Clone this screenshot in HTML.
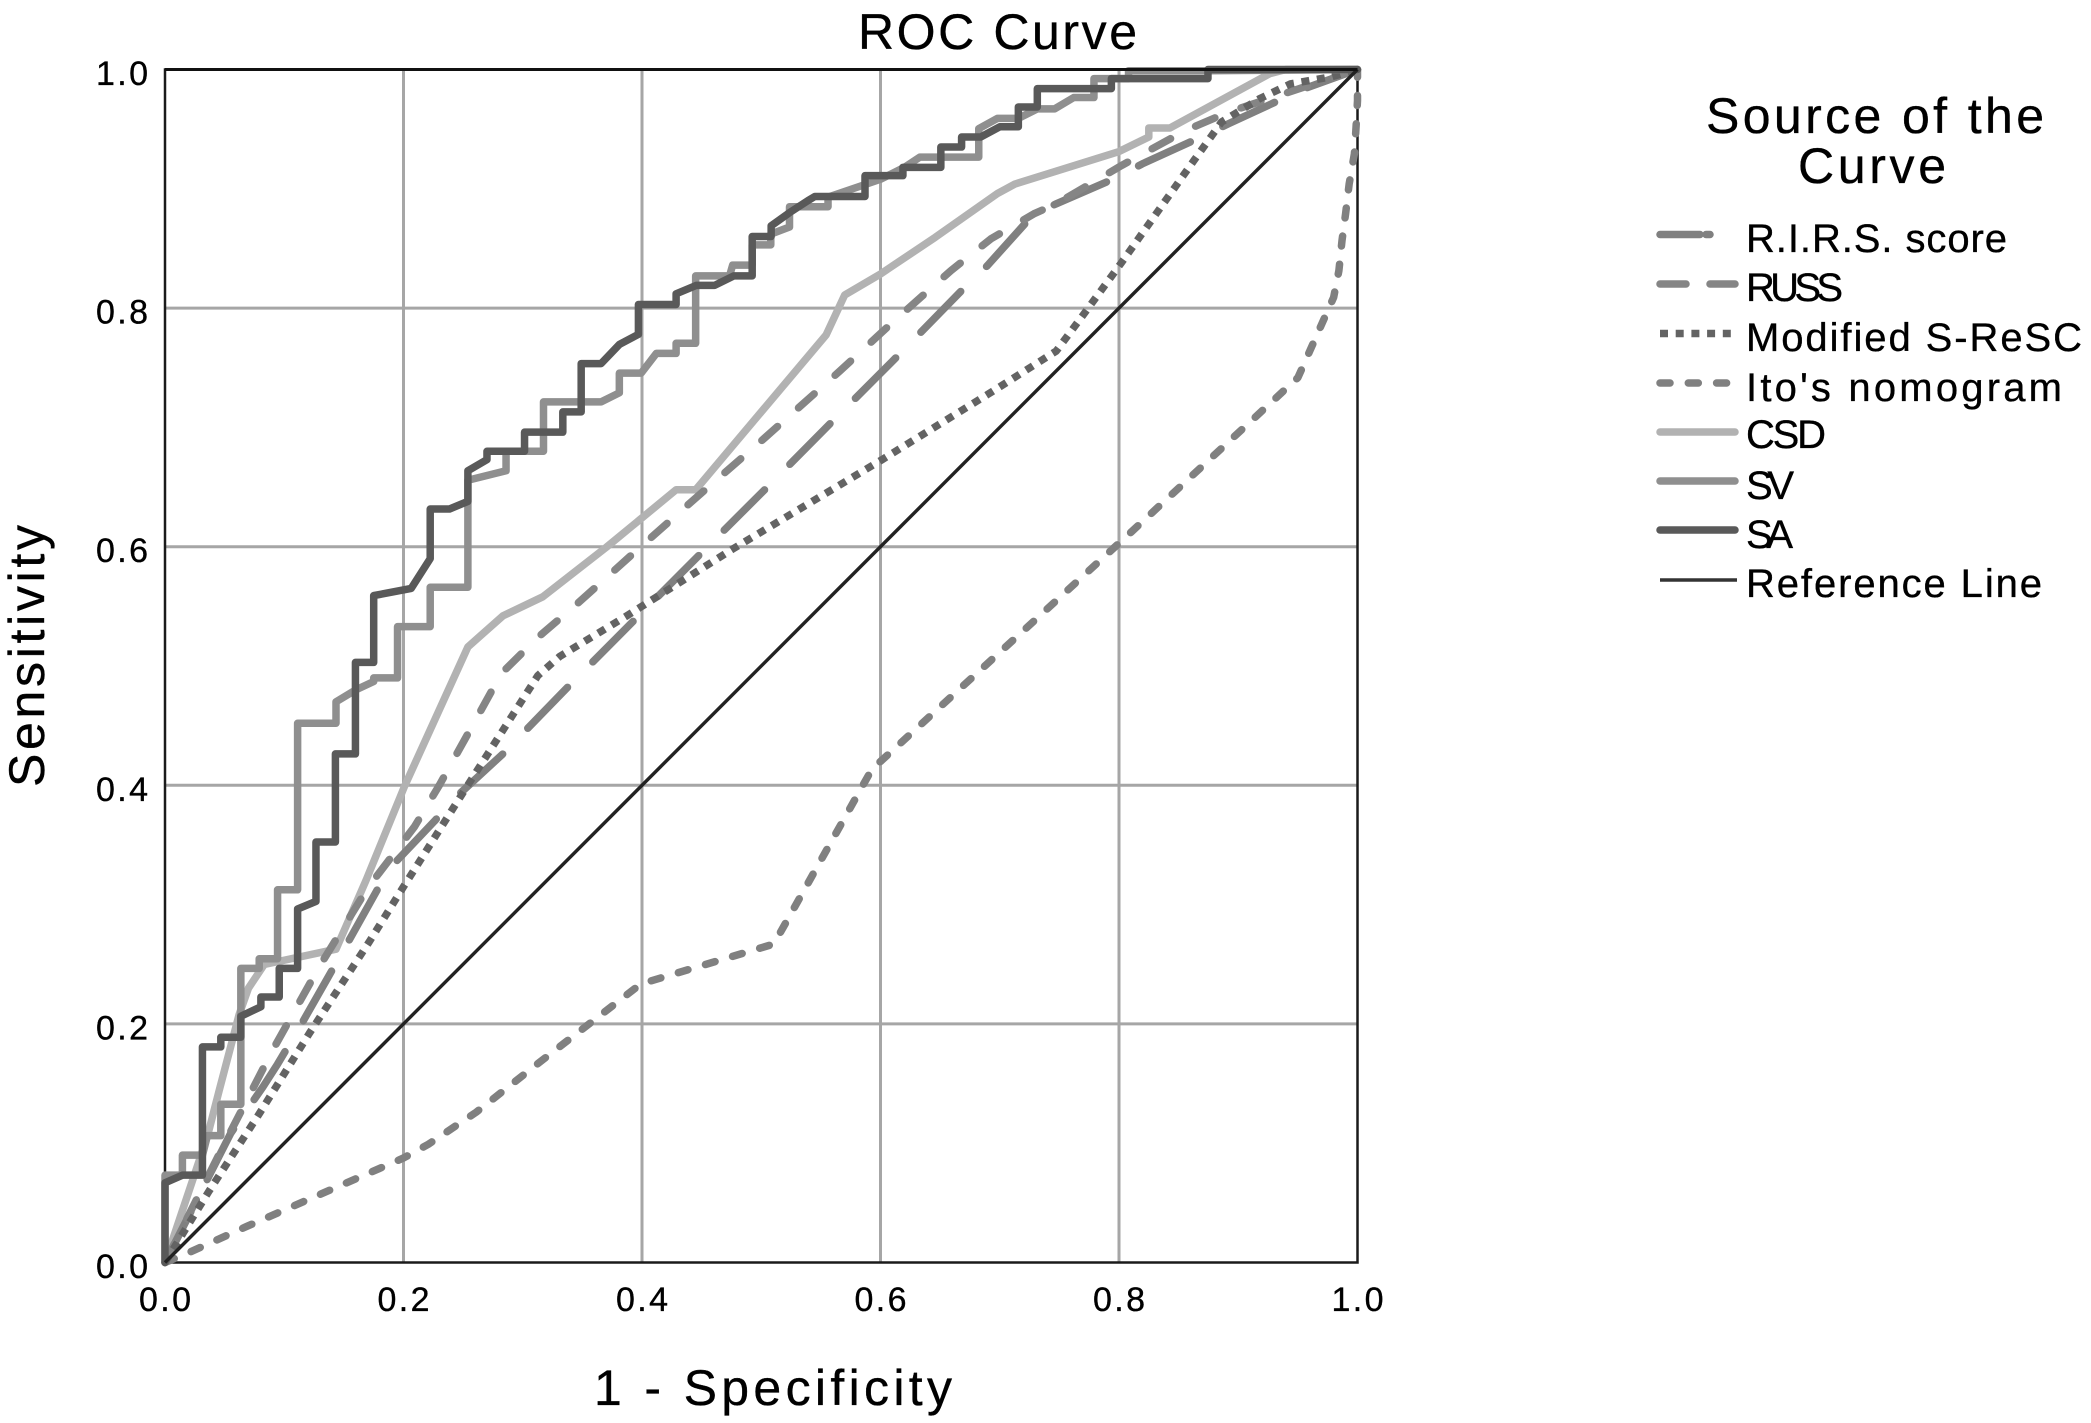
<!DOCTYPE html>
<html lang="en">
<head>
<meta charset="utf-8">
<title>ROC Curve</title>
<style>
html,body{margin:0;padding:0;background:#fff;}
svg{display:block;}
text{font-family:"Liberation Sans",sans-serif;fill:#000;stroke:#000;stroke-width:0.35;}
</style>
</head>
<body>
<svg id="chart" xmlns="http://www.w3.org/2000/svg" width="2091" height="1423" viewBox="0 0 2091 1423">
  <rect x="0" y="0" width="2091" height="1423" fill="#fff"/>
  <g id="grid"></g>
  <g id="series"></g>
  <line x1="165" y1="69.5" x2="1357.5" y2="69.5" stroke="#111" stroke-width="3"/>
  <g id="ticks"></g>
  <text x="858" y="49" font-size="50" textLength="279" lengthAdjust="spacing">ROC Curve</text>
  <text x="594" y="1405" font-size="50" textLength="358" lengthAdjust="spacing">1 - Specificity</text>
  <text transform="translate(44 787) rotate(-90)" font-size="50" textLength="262" lengthAdjust="spacing">Sensitivity</text>
  <g>
    <text x="1706" y="133" font-size="50" textLength="338" lengthAdjust="spacing">Source of the</text>
    <text x="1798" y="183" font-size="50" textLength="148" lengthAdjust="spacing">Curve</text>
    <line x1="1660" y1="234.5" x2="1712" y2="234.5" stroke="#808080" stroke-width="7.5" stroke-linecap="round" stroke-dasharray="40 6 4 40"/>
    <text x="1746" y="252" font-size="40" textLength="261" lengthAdjust="spacing">R.I.R.S. score</text>
    <line x1="1660" y1="284" x2="1735" y2="284" stroke="#858585" stroke-width="7.5" stroke-linecap="round" stroke-dasharray="26 24"/>
    <text x="1746" y="301" font-size="40" textLength="97" lengthAdjust="spacing">RUSS</text>
    <line x1="1660" y1="333.5" x2="1733" y2="333.5" stroke="#636363" stroke-width="7.5" stroke-dasharray="8 7.7"/>
    <text x="1746" y="351" font-size="40" textLength="336" lengthAdjust="spacing">Modified S-ReSC</text>
    <line x1="1660" y1="383" x2="1728" y2="383" stroke="#808080" stroke-width="7.5" stroke-linecap="round" stroke-dasharray="10 18.3"/>
    <text x="1746" y="401" font-size="40" textLength="316" lengthAdjust="spacing">Ito's nomogram</text>
    <line x1="1660" y1="432" x2="1735" y2="432" stroke="#b2b2b2" stroke-width="7.5" stroke-linecap="round"/>
    <text x="1746" y="448" font-size="40" textLength="80" lengthAdjust="spacing">CSD</text>
    <line x1="1660" y1="481" x2="1735" y2="481" stroke="#8f8f8f" stroke-width="7.5" stroke-linecap="round"/>
    <text x="1746" y="499" font-size="40" textLength="48" lengthAdjust="spacing">SV</text>
    <line x1="1660" y1="530" x2="1735" y2="530" stroke="#595959" stroke-width="7.5" stroke-linecap="round"/>
    <text x="1746" y="548" font-size="40" textLength="47" lengthAdjust="spacing">SA</text>
    <line x1="1660" y1="580" x2="1737" y2="580" stroke="#333" stroke-width="3.5"/>
    <text x="1746" y="597" font-size="40" textLength="296" lengthAdjust="spacing">Reference Line</text>
  </g>
</svg>
<script>
const tickValues = ["0.0", "0.2", "0.4", "0.6", "0.8", "1.0"];
const gridValues = [0.2, 0.4, 0.6, 0.8];
const referenceLine = [[0, 0], [1, 1]];
const rirsScore = [[0,0],[0.0552,0.1085],[0.082,0.147],[0.0944,0.1663],[0.1154,0.2016],[0.1364,0.2385],[0.1574,0.2755],[0.178,0.3124],[0.188,0.33],[0.226,0.37],[0.2428,0.389],[0.2833,0.4263],[0.3378,0.4824],[0.3937,0.5386],[0.45,0.595],[0.5041,0.649],[0.56,0.7054],[0.616,0.7615],[0.672,0.8188],[0.6896,0.8356],[0.7286,0.879],[0.7474,0.8874],[0.7994,0.91],[0.8197,0.921],[0.8688,0.9434],[0.892,0.9546],[0.9555,0.984],[1,1]];
const russ = [[0,0],[0.05,0.1],[0.09,0.1775],[0.1294,0.248],[0.17,0.314],[0.2092,0.3653],[0.23,0.4],[0.2625,0.4584],[0.282,0.4937],[0.3127,0.524],[0.3448,0.5514],[0.3895,0.5915],[0.44,0.6364],[0.5027,0.691],[0.5656,0.747],[0.61,0.788],[0.659,0.8314],[0.6925,0.858],[0.7286,0.879],[0.7474,0.8874],[0.8023,0.9196],[0.856,0.949],[0.892,0.9644],[0.9555,0.9854],[1,1]];
const modifiedSReSC = [[0,0],[0.037,0.06],[0.079,0.1246],[0.121,0.192],[0.1714,0.269],[0.1994,0.314],[0.25,0.394],[0.3127,0.492],[0.331,0.508],[0.3867,0.5417],[0.476,0.598],[0.6014,0.673],[0.69,0.7277],[0.7474,0.764],[0.7705,0.795],[0.8023,0.8384],[0.863,0.924],[0.886,0.956],[0.918,0.9756],[0.944,0.988],[0.9786,0.994],[1,1]];
const itoNomogram = [[0,0],[0.0216,0.009],[0.068,0.03],[0.2,0.0876],[0.2207,0.099],[0.261,0.126],[0.3143,0.168],[0.399,0.2335],[0.5106,0.267],[0.594,0.4156],[0.6,0.42],[0.811,0.613],[0.95,0.7417],[0.98,0.809],[0.9844,0.8314],[0.987,0.8566],[0.99,0.879],[0.993,0.904],[0.9974,0.9294],[0.9988,0.952],[1,0.974],[1,1]];
const csd = [[0,0],[0.0356,0.106],[0.0454,0.144],[0.0622,0.208],[0.07,0.23],[0.0832,0.2498],[0.1434,0.2626],[0.1686,0.3204],[0.2008,0.399],[0.254,0.516],[0.2833,0.542],[0.3168,0.558],[0.37,0.5995],[0.4286,0.6477],[0.445,0.6477],[0.5544,0.7775],[0.57,0.811],[0.6,0.8286],[0.646,0.8594],[0.698,0.896],[0.7127,0.904],[0.7994,0.931],[0.825,0.9434],[0.825,0.951],[0.8428,0.951],[0.9266,0.9966],[0.94,1],[1,1]];
const sv = [[0,0],[0,0.0732],[0.0146,0.0732],[0.0146,0.09],[0.0314,0.09],[0.0356,0.1063],[0.0468,0.1063],[0.0468,0.1326],[0.0636,0.1326],[0.0636,0.2465],[0.079,0.2465],[0.079,0.2546],[0.0944,0.2546],[0.0944,0.3124],[0.1112,0.3124],[0.1112,0.452],[0.1434,0.452],[0.1434,0.47],[0.16,0.48],[0.175,0.487],[0.175,0.49],[0.195,0.49],[0.195,0.533],[0.2224,0.533],[0.2224,0.566],[0.254,0.566],[0.254,0.6557],[0.286,0.6637],[0.286,0.68],[0.3174,0.68],[0.3174,0.7214],[0.3657,0.7214],[0.381,0.729],[0.381,0.7455],[0.3993,0.7455],[0.412,0.762],[0.4286,0.762],[0.4286,0.7705],[0.445,0.7705],[0.445,0.827],[0.4734,0.827],[0.476,0.836],[0.4924,0.836],[0.4924,0.853],[0.508,0.853],[0.508,0.862],[0.5237,0.868],[0.5237,0.885],[0.556,0.885],[0.556,0.893],[0.6,0.908],[0.62,0.918],[0.633,0.9266],[0.6824,0.9266],[0.6824,0.9504],[0.698,0.959],[0.7156,0.959],[0.7315,0.967],[0.746,0.967],[0.762,0.9765],[0.779,0.9765],[0.779,0.9924],[0.808,0.9924],[0.808,0.999],[0.8746,0.999],[1,1]];
const sa = [[0,0],[0,0.0668],[0.0146,0.0732],[0.0314,0.0732],[0.0314,0.1807],[0.0468,0.1807],[0.0468,0.1888],[0.0636,0.1888],[0.0636,0.2064],[0.0804,0.2144],[0.0804,0.2225],[0.0958,0.2225],[0.0958,0.2465],[0.1112,0.2465],[0.1112,0.2963],[0.1266,0.3027],[0.1266,0.3525],[0.1429,0.3525],[0.1429,0.4263],[0.1597,0.4263],[0.1597,0.503],[0.175,0.503],[0.175,0.559],[0.2064,0.565],[0.2224,0.59],[0.2224,0.6316],[0.2386,0.6316],[0.254,0.638],[0.254,0.6637],[0.27,0.673],[0.27,0.68],[0.3015,0.68],[0.3015,0.696],[0.3336,0.696],[0.3336,0.713],[0.349,0.713],[0.349,0.7535],[0.3657,0.7535],[0.381,0.7695],[0.397,0.778],[0.397,0.803],[0.4286,0.803],[0.4286,0.812],[0.4454,0.819],[0.4608,0.819],[0.477,0.827],[0.4924,0.827],[0.4924,0.86],[0.5083,0.86],[0.5083,0.869],[0.5237,0.88],[0.539,0.89],[0.545,0.8936],[0.587,0.8936],[0.587,0.911],[0.6188,0.911],[0.6188,0.918],[0.6506,0.918],[0.6506,0.935],[0.668,0.935],[0.668,0.9434],[0.684,0.9434],[0.7,0.952],[0.7156,0.952],[0.7156,0.9686],[0.7315,0.9686],[0.7315,0.984],[0.7936,0.984],[0.7936,0.9924],[0.8746,0.9924],[0.8746,1],[1,1]];

const SVG_NS = "http://www.w3.org/2000/svg";
const plotLeft = 165, plotRight = 1357.5, plotTop = 69.5, plotBottom = 1262.5;
function xScale(v) { return plotLeft + v * (plotRight - plotLeft); }
function yScale(v) { return plotBottom - v * (plotBottom - plotTop); }
function pathFrom(points) {
  return points.map(function (p, i) {
    return (i ? "L" : "M") + xScale(p[0]).toFixed(2) + " " + yScale(p[1]).toFixed(2);
  }).join(" ");
}
function seriesPath(points, name, color, width, dash, cap) {
  const path = document.createElementNS(SVG_NS, "path");
  path.setAttribute("d", pathFrom(points));
  path.setAttribute("fill", "none");
  path.setAttribute("stroke", color);
  path.setAttribute("stroke-width", width);
  path.setAttribute("stroke-linejoin", "round");
  path.setAttribute("stroke-linecap", cap);
  if (dash) path.setAttribute("stroke-dasharray", dash);
  
  
  document.getElementById("series").appendChild(path);
}

const gridGroup = document.getElementById("grid");
gridValues.forEach(function (v) {
  const vLine = document.createElementNS(SVG_NS, "line");
  vLine.setAttribute("x1", xScale(v));
  vLine.setAttribute("x2", xScale(v));
  vLine.setAttribute("y1", plotTop);
  vLine.setAttribute("y2", plotBottom);
  vLine.setAttribute("stroke", "#a6a6a6");
  vLine.setAttribute("stroke-width", "3");
  
  
  gridGroup.appendChild(vLine);
  const hLine = document.createElementNS(SVG_NS, "line");
  hLine.setAttribute("x1", plotLeft);
  hLine.setAttribute("x2", plotRight);
  hLine.setAttribute("y1", yScale(v));
  hLine.setAttribute("y2", yScale(v));
  hLine.setAttribute("stroke", "#a6a6a6");
  hLine.setAttribute("stroke-width", "3");
  
  
  gridGroup.appendChild(hLine);
});
const frame = document.createElementNS(SVG_NS, "rect");
frame.setAttribute("x", plotLeft);
frame.setAttribute("y", plotTop);
frame.setAttribute("width", plotRight - plotLeft);
frame.setAttribute("height", plotBottom - plotTop);
frame.setAttribute("fill", "none");
frame.setAttribute("stroke", "#1a1a1a");
frame.setAttribute("stroke-width", "2.5");


gridGroup.appendChild(frame);

seriesPath(itoNomogram, "curve-ito-nomogram", "#808080", 7.5, "10 18.3", "round");
seriesPath(csd, "curve-csd", "#b2b2b2", 7.5, "", "round");
seriesPath(rirsScore, "curve-rirs-score", "#808080", 7.5, "57 36", "round");
seriesPath(russ, "curve-russ", "#858585", 7.5, "21 28", "round");
seriesPath(modifiedSReSC, "curve-modified-s-resc", "#636363", 7.5, "8 7.7", "butt");
seriesPath(sv, "curve-sv", "#8f8f8f", 7.5, "", "round");
seriesPath(sa, "curve-sa", "#595959", 7.5, "", "round");
seriesPath(referenceLine, "reference-line", "#222222", 3.4, "", "butt");

const tickGroup = document.getElementById("ticks");
tickValues.forEach(function (label) {
  const v = parseFloat(label);
  const xTick = document.createElementNS(SVG_NS, "text");
  xTick.setAttribute("x", xScale(v) - 26);
  xTick.setAttribute("y", 1311);
  xTick.setAttribute("font-size", "34");
  xTick.setAttribute("textLength", "52");
  xTick.setAttribute("lengthAdjust", "spacing");
  xTick.textContent = label;
  
  
  tickGroup.appendChild(xTick);
  const yTick = document.createElementNS(SVG_NS, "text");
  yTick.setAttribute("x", 96);
  yTick.setAttribute("y", yScale(v) + 15.5);
  yTick.setAttribute("font-size", "34");
  yTick.setAttribute("textLength", "52");
  yTick.setAttribute("lengthAdjust", "spacing");
  yTick.textContent = label;
  
  
  tickGroup.appendChild(yTick);
});
</script>
</body>
</html>
